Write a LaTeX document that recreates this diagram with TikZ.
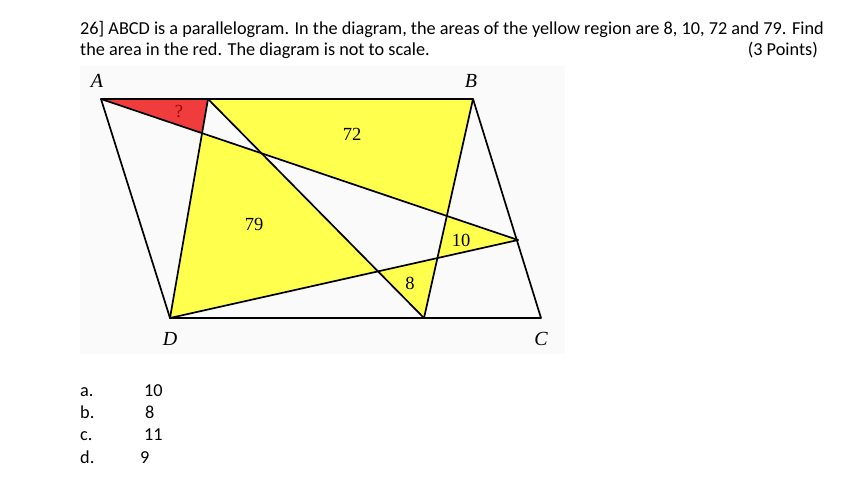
\documentclass[tikz,border=0pt]{standalone}
\usepackage{fontspec}
\setmainfont{Carlito}
\newfontfamily\serifdiag{Liberation Serif}
\usetikzlibrary{calc}
\definecolor{yel}{RGB}{255,255,77}
\definecolor{redfill}{RGB}{240,60,60}
\definecolor{qmark}{RGB}{150,0,0}
\definecolor{bgdiag}{RGB}{250,250,250}
\tikzset{
  edge/.style={line width=1.7pt, line join=round, line cap=round},
  yregion/.style={fill=yel},
  rregion/.style={fill=redfill},
  vlabel/.style={font=\serifdiag\itshape\fontsize{20}{20}\selectfont, inner sep=0pt},
  alabel/.style={font=\serifdiag\fontsize{18.5}{18.5}\selectfont, inner sep=0pt},
  qtext/.style={font=\fontsize{18.25}{18.25}\selectfont, inner sep=0pt, anchor=base west},
}
\begin{document}
\begin{tikzpicture}[x=1pt,y=-1pt]
\useasboundingbox (0,0) rectangle (850,482);
\fill[white] (0,0) rectangle (850,482);
\fill[bgdiag] (80,66) rectangle (565,354);
% vertices
\coordinate (A) at (101,99);
\coordinate (B) at (473,99);
\coordinate (C) at (541,318);
\coordinate (D) at (170,318);
\coordinate (E) at (208,99);
\coordinate (F) at (424,318);
\coordinate (G) at (518,240);
% intersections
\coordinate (R) at (intersection of A--G and E--D);
\coordinate (Q) at (intersection of A--G and E--F);
\coordinate (P) at (intersection of A--G and B--F);
\coordinate (S) at (intersection of D--G and E--F);
\coordinate (T) at (intersection of D--G and B--F);
% regions
\fill[rregion] (A) -- (E) -- (R) -- cycle;
\fill[yregion] (E) -- (B) -- (P) -- (Q) -- cycle;
\fill[yregion] (R) -- (Q) -- (S) -- (D) -- cycle;
\fill[yregion] (P) -- (G) -- (T) -- cycle;
\fill[yregion] (S) -- (T) -- (F) -- cycle;
% lines
\draw[edge] (A) -- (B) -- (C) -- (D) -- cycle;
\draw[edge] (A) -- (G);
\draw[edge] (D) -- (G);
\draw[edge] (E) -- (F);
\draw[edge] (E) -- (D);
\draw[edge] (B) -- (F);
% labels
\node[vlabel] (lA) at (97,81) {A};
\node[vlabel] (lB) at (471,81) {B};
\node[vlabel] (lD) at (170,339) {D};
\node[vlabel] (lC) at (541,339) {C};
\node[alabel, text=qmark] (lq) at (179,112) {?};
\node[alabel] (l72) at (352,134) {72};
\node[alabel] (l79) at (254,224) {79};
\node[alabel] (l10) at (461,240) {10};
\node[alabel] (l8) at (410,283) {8};
% question text
\node[qtext] (t1) at (80,34) {26] ABCD is a parallelogram. In the diagram, the areas of the yellow region are 8, 10, 72 and 79. Find};
\node[qtext] (t2) at (80,55) {the area in the red. The diagram is not to scale.};
\node[qtext, anchor=base east] (t3) at (818,55) {(3 Points)};
% options
\node[qtext] (oa) at (80,396) {a.};
\node[qtext] (ob) at (80,418) {b.};
\node[qtext] (oc) at (80,440) {c.};
\node[qtext] (od) at (80,463) {d.};
\node[qtext] (va) at (144,396) {10};
\node[qtext] (vb) at (145,418) {8};
\node[qtext] (vc) at (144,440) {11};
\node[qtext] (vd) at (140,463) {9};
\end{tikzpicture}
\end{document}
